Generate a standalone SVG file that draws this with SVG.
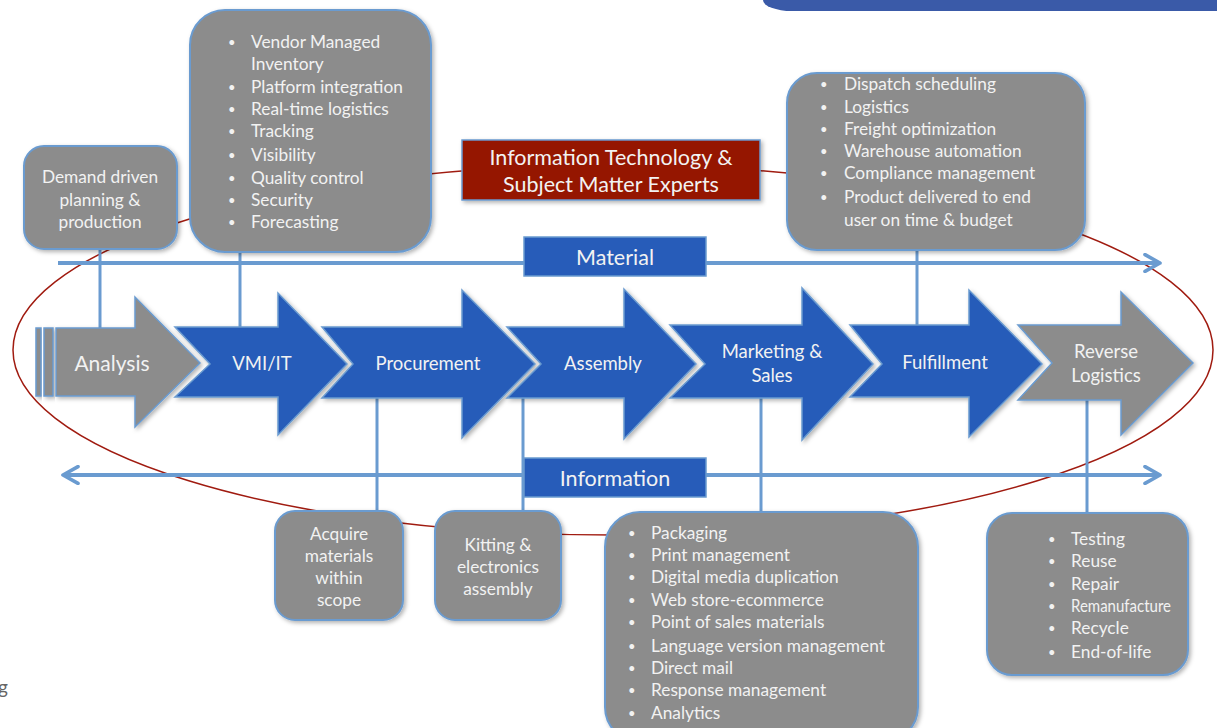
<svg xmlns="http://www.w3.org/2000/svg" width="1217" height="728" viewBox="0 0 1217 728">
<defs>
<filter id="sh" x="-10%" y="-10%" width="125%" height="125%">
<feDropShadow dx="2" dy="2" stdDeviation="2" flood-color="#000" flood-opacity="0.3"/>
</filter>
<marker id="ah" viewBox="0 0 12 12" refX="10" refY="6" markerWidth="5" markerHeight="5" orient="auto-start-reverse" markerUnits="strokeWidth">
<path d="M1,1 L10,6 L1,11" fill="none" stroke="#6A9BD0" stroke-width="2.2" stroke-linecap="round" stroke-linejoin="round"/>
</marker>
</defs>
<style>
.box{fill:#8C8C8C;stroke:#6A9BD0;stroke-width:2;filter:url(#sh)}
.blue{fill:#275CB9;stroke:#6A9BD0;stroke-width:1.5;filter:url(#sh)}
.grey{fill:#8C8C8C;stroke:#6A9BD0;stroke-width:1.5;filter:url(#sh)}
.ln{stroke:#6A9BD0;stroke-width:4;fill:none}
.cn{stroke:#6A9BD0;stroke-width:3;fill:none}
text{font-family:Lato,"Liberation Sans",sans-serif;fill:#F2F2F2}
.t16{font-size:17.3px}
.c{text-anchor:middle}
.t18{font-size:18.5px}
.t20{font-size:21.5px}
.b{font-size:13px}
</style>
<path d="M763,0 H1217 V11 H792 A29 11 0 0 1 763,0 Z" fill="#3A5AA8"/>
<ellipse cx="613" cy="350" rx="600" ry="185" fill="none" stroke="#A01B10" stroke-width="1.5"/>
<g id="connectors">
<line class="ln" x1="58" y1="263" x2="1160" y2="263" marker-end="url(#ah)"/>
<line class="ln" x1="63" y1="475" x2="1160" y2="475" marker-start="url(#ah)" marker-end="url(#ah)"/>
<line class="cn" x1="100" y1="249" x2="100" y2="328"/>
<line class="cn" x1="240" y1="252" x2="240" y2="327"/>
<line class="cn" x1="917" y1="250" x2="917" y2="325"/>
<line class="cn" x1="377" y1="398" x2="377" y2="511"/>
<line class="cn" x1="523" y1="398" x2="523" y2="511"/>
<line class="cn" x1="761" y1="398" x2="761" y2="512"/>
<line class="cn" x1="1087" y1="400" x2="1087" y2="513"/>
</g>
<g id="material">
<rect x="524" y="237" width="182" height="39" fill="#275CB9" stroke="#6A9BD0" stroke-width="1.5"/>
<text class="t20 c" x="615" y="265">Material</text>
</g>
<g id="information">
<rect x="524" y="458" width="182" height="39" fill="#275CB9" stroke="#6A9BD0" stroke-width="1.5"/>
<text class="t20 c" x="615" y="486">Information</text>
</g>
<g id="analysis">
<rect class="grey" x="36" y="328" width="5" height="68"/>
<rect class="grey" x="44" y="328" width="9" height="68"/>
<path class="grey" d="M56,328 H135 V297 L200,363 L135,427 V396 H56 Z"/>
<text class="c" x="112" y="371" font-size="21">Analysis</text>
</g>
<g id="vmi">
<path class="blue" d="M175,327 H278 V293 L347,364 L278,435 V397 H175 L210,364 Z"/>
<text class="t18 c" x="262" y="370">VMI/IT</text>
</g>
<g id="procurement">
<path class="blue" d="M322,327 H462 V290 L535,364 L462,438 V398 H322 L353,364 Z"/>
<text class="t18 c" x="428" y="370">Procurement</text>
</g>
<g id="assembly">
<path class="blue" d="M507,327 H624 V289 L696,364 L624,439 V398 H507 L541,364 Z"/>
<text class="t18 c" x="603" y="370">Assembly</text>
</g>
<g id="marketing">
<path class="blue" d="M670,325 H802 V288 L873,364 L802,440 V398 H670 L705,364 Z"/>
<text class="t18 c" x="772" y="358">Marketing &amp;</text>
<text class="t18 c" x="772" y="382">Sales</text>
</g>
<g id="fulfillment">
<path class="blue" d="M850,325 H969 V290 L1042,364 L969,437 V397 H850 L882,364 Z"/>
<text class="t18 c" x="945" y="369">Fulfillment</text>
</g>
<g id="reverse">
<path class="grey" d="M1018,325 H1121 V292 L1193,363 L1121,435 V400 H1018 L1052,363 Z"/>
<text class="t18 c" x="1106" y="358">Reverse</text>
<text class="t18 c" x="1106" y="382">Logistics</text>
</g>
<g id="demand">
<rect class="box" x="24" y="146" width="153" height="103" rx="20"/>
<text class="t16 c" x="100" y="183">Demand driven</text>
<text class="t16 c" x="100" y="206">planning &amp;</text>
<text class="t16 c" x="100" y="228">production</text>
</g>
<g id="vmi-box">
<rect class="box" x="190" y="10" width="241" height="242" rx="35"/>
<g class="t16">
<text class="b" x="228" y="47">•</text><text x="251" y="48">Vendor Managed</text>
<text x="251" y="70">Inventory</text>
<text class="b" x="228" y="92">•</text><text x="251" y="93">Platform integration</text>
<text class="b" x="228" y="114">•</text><text x="251" y="115">Real-time logistics</text>
<text class="b" x="228" y="136">•</text><text x="251" y="137">Tracking</text>
<text class="b" x="228" y="160">•</text><text x="251" y="161">Visibility</text>
<text class="b" x="228" y="183">•</text><text x="251" y="184">Quality control</text>
<text class="b" x="228" y="205">•</text><text x="251" y="206">Security</text>
<text class="b" x="228" y="227">•</text><text x="251" y="228">Forecasting</text>
</g>
</g>
<g id="it">
<rect x="462" y="140" width="298" height="60" fill="#951200" stroke="#6A9BD0" stroke-width="1.5" filter="url(#sh)"/>
<text class="t20 c" x="611" y="165">Information Technology &amp;</text>
<text class="t20 c" x="611" y="192">Subject Matter Experts</text>
</g>
<g id="fulfillment-box">
<rect class="box" x="787" y="73" width="298" height="177" rx="30"/>
<g class="t16">
<text class="b" x="820" y="89">•</text><text x="844" y="90">Dispatch scheduling</text>
<text class="b" x="820" y="112">•</text><text x="844" y="113">Logistics</text>
<text class="b" x="820" y="134">•</text><text x="844" y="135">Freight optimization</text>
<text class="b" x="820" y="156">•</text><text x="844" y="157">Warehouse automation</text>
<text class="b" x="820" y="178">•</text><text x="844" y="179">Compliance management</text>
<text class="b" x="820" y="202">•</text><text x="844" y="203">Product delivered to end</text>
<text x="844" y="226">user on time &amp; budget</text>
</g>
</g>
<g id="acquire">
<rect class="box" x="275" y="511" width="128" height="109" rx="20"/>
<text class="t16 c" x="339" y="540">Acquire</text>
<text class="t16 c" x="339" y="562">materials</text>
<text class="t16 c" x="339" y="584">within</text>
<text class="t16 c" x="339" y="606">scope</text>
</g>
<g id="kitting">
<rect class="box" x="435" y="511" width="126" height="109" rx="20"/>
<text class="t16 c" x="498" y="551">Kitting &amp;</text>
<text class="t16 c" x="498" y="573">electronics</text>
<text class="t16 c" x="498" y="595">assembly</text>
</g>
<g id="packaging">
<rect class="box" x="605" y="512" width="313" height="230" rx="35"/>
<g class="t16">
<text class="b" x="628" y="538">•</text><text x="651" y="539">Packaging</text>
<text class="b" x="628" y="560">•</text><text x="651" y="561">Print management</text>
<text class="b" x="628" y="582">•</text><text x="651" y="583">Digital media duplication</text>
<text class="b" x="628" y="605">•</text><text x="651" y="606">Web store-ecommerce</text>
<text class="b" x="628" y="627">•</text><text x="651" y="628">Point of sales materials</text>
<text class="b" x="628" y="651">•</text><text x="651" y="652">Language version management</text>
<text class="b" x="628" y="673">•</text><text x="651" y="674">Direct mail</text>
<text class="b" x="628" y="695">•</text><text x="651" y="696">Response management</text>
<text class="b" x="628" y="718">•</text><text x="651" y="719">Analytics</text>
</g>
</g>
<g id="testing">
<rect class="box" x="987" y="513" width="201" height="162" rx="25"/>
<g class="t16">
<text class="b" x="1048" y="544">•</text><text x="1071" y="545">Testing</text>
<text class="b" x="1048" y="566">•</text><text x="1071" y="567">Reuse</text>
<text class="b" x="1048" y="589">•</text><text x="1071" y="590">Repair</text>
<text class="b" x="1048" y="611">•</text><text x="1071" y="612" textLength="100" lengthAdjust="spacingAndGlyphs">Remanufacture</text>
<text class="b" x="1048" y="633">•</text><text x="1071" y="634">Recycle</text>
<text class="b" x="1048" y="657">•</text><text x="1071" y="658">End-of-life</text>
</g>
</g>
<text x="-2" y="694" font-size="19" style="fill:#666">g</text>
</svg>
